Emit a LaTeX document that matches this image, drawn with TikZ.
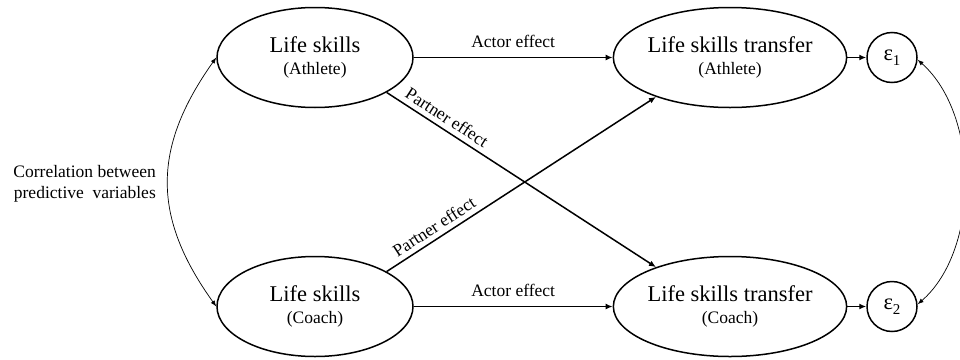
\documentclass[tikz,border=0pt]{standalone}
\usepackage{fontspec}
\setmainfont{Liberation Serif}
\usetikzlibrary{arrows.meta,shapes.geometric}
\newcommand\mybigtxt[1]{{\fontsize{22.5}{26}\selectfont #1}}
\begin{document}
\begin{tikzpicture}[x=1pt,y=-1pt,
  var/.style={ellipse, draw, line width=1.5pt, minimum width=196pt, minimum height=100pt,
    inner sep=0pt, align=center, font=\fontsize{17.5}{22}\selectfont},
  err/.style={circle, draw, line width=1.5pt, minimum size=50pt, inner sep=0pt},
  effect/.style={line width=1.5pt, -{Latex[length=7pt,width=6pt]}},
  cor/.style={line width=0.7pt, {Latex[length=6pt,width=4.5pt]}-{Latex[length=6pt,width=4.5pt]}},
  lbl/.style={font=\fontsize{17.5}{21}\selectfont, inner sep=1pt},
]
\useasboundingbox (0,0) rectangle (960,359);

\node[var] (ta) at (315,57.5) {\mybigtxt{Life skills}\\(Athlete)};
\node[var] (ca) at (315,306.5) {\mybigtxt{Life skills}\\(Coach)};
\node[var] (tt) at (730,57.5) {\mybigtxt{Life skills transfer}\\(Athlete)};
\node[var] (tc) at (730,306.5) {\mybigtxt{Life skills transfer}\\(Coach)};
\node[err] (e1) at (892,57.5) {\mybigtxt{ε}\raisebox{-5pt}{\fontsize{15}{15}\selectfont 1}};
\node[err] (e2) at (892,306.5) {\mybigtxt{ε}\raisebox{-5pt}{\fontsize{15}{15}\selectfont 2}};

\node[lbl, align=right, anchor=east] (corr) at (157,184) {Correlation between\\predictive\ \ variables};

\draw[effect] (ta) -- node[lbl, above=8pt, midway] {Actor effect} (tt);
\draw[effect] (ca) -- node[lbl, above=8pt, midway] {Actor effect} (tc);
\draw[effect] (ta.-26.9) -- node[lbl, sloped, above=4pt, pos=0.2] {Partner effect} (tc.152.5);
\draw[effect] (ca.26.9) -- node[lbl, sloped, above=4pt, pos=0.2] {Partner effect} (tt.208.2);
\draw[effect] (tt) -- (e1);
\draw[effect] (tc) -- (e2);

\draw[cor] (ta.west) .. controls (152,148) and (152,217) .. (ca.west);
\begin{scope}
\clip (0,0) rectangle (960,359);
\draw[cor] (e1.-5) .. controls (980,115) and (980,250) .. (e2.5);
\end{scope}
\end{tikzpicture}
\end{document}
